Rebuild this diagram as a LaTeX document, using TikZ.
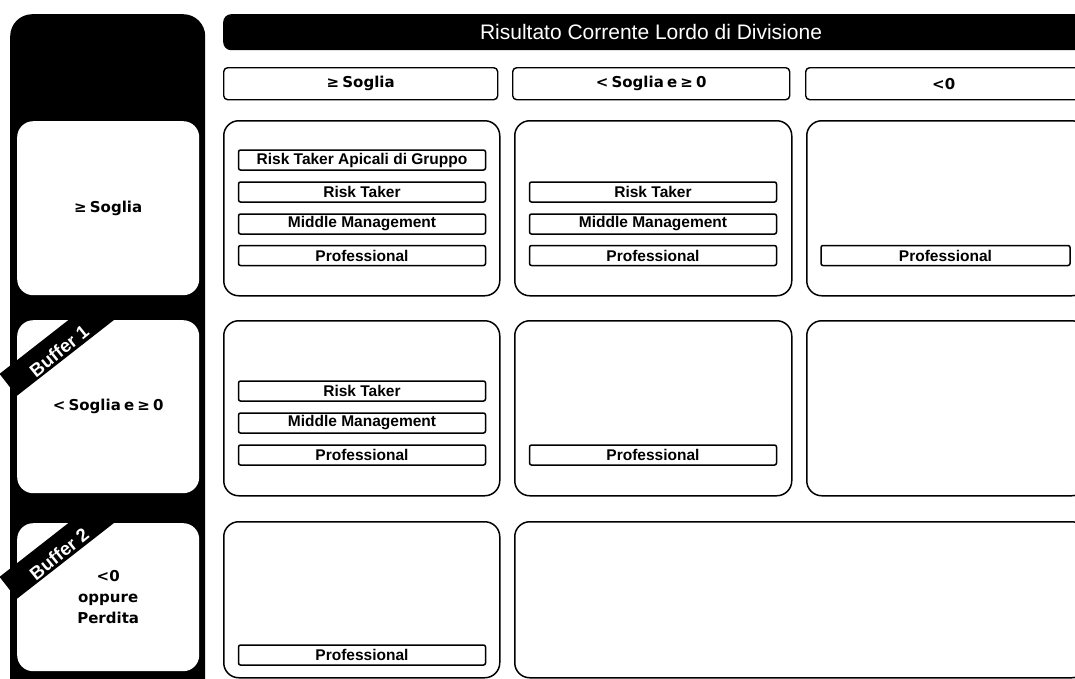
\documentclass[tikz,border=0pt]{standalone}
\usepackage{fontspec}
\setmainfont{Liberation Sans}
\newfontfamily\lblfont[WordSpace=0.6]{DejaVu Sans}
\begin{document}
\begin{tikzpicture}[x=1pt,y=-1pt,
 cell/.style={draw, line width=1.5pt, rounded corners=15pt, anchor=north west, inner sep=0pt},
 hdr/.style={draw, line width=1.4pt, rounded corners=4pt, anchor=north west, inner sep=0pt, minimum height=32pt, font=\lblfont\bfseries\fontsize{15}{17}\selectfont},
 ibox/.style={draw, line width=1.5pt, rounded corners=2pt, minimum height=20pt, minimum width=247pt, inner sep=0pt, font=\bfseries\fontsize{15.5}{17}\selectfont},
 lbox/.style={fill=white, rounded corners=16pt, anchor=north west, inner sep=0pt, minimum width=182pt, align=center, font=\lblfont\bfseries\fontsize{15}{21}\selectfont},
 ribbon/.style={fill=black, rotate=38, anchor=west, minimum width=140pt, minimum height=28pt, inner sep=0pt},
 rtext/.style={text=white, rotate=39, font=\bfseries\fontsize{18.5}{19}\selectfont, inner sep=0pt}]
\useasboundingbox (0,0) rectangle (1075,678);
\clip (0,0) rectangle (1075,678);
% left column
\node[fill=black, rounded corners=22pt, anchor=north west, minimum width=195pt, minimum height=700pt, inner sep=0pt] (col) at (10,14) {};
\node[lbox, minimum height=174pt] (l1) at (17,121) {≥ Soglia};
\node[lbox, minimum height=173pt] (l2) at (17,320) {< Soglia e ≥ 0};
\node[lbox, minimum height=148pt] (l3) at (17,523) {<0\\oppure\\Perdita};
\begin{scope}
\clip (0,300) rectangle (210,500);
\node[ribbon] (r1) at (8,385) {};
\end{scope}
\node[rtext] (t1) at (59,351) {Buffer\hspace{5pt}1};
\begin{scope}
\clip (0,503) rectangle (210,678);
\node[ribbon] (r2) at (8,588) {};
\end{scope}
\node[rtext] (t2) at (59,554) {Buffer\hspace{5pt}2};
% top bar
\node[fill=black, rounded corners=8pt, anchor=north west, minimum width=880pt, minimum height=36pt, inner sep=0pt] (bar) at (223,14) {};
\node[text=white, font=\fontsize{21}{23}\selectfont, inner sep=0pt] (title) at (651,32) {Risultato Corrente Lordo di Divisione};
% headers
\node[hdr, minimum width=274pt] (h1) at (223,67) {≥ Soglia};
\node[hdr, minimum width=277pt] (h2) at (512,67) {< Soglia e ≥ 0};
\node[hdr, minimum width=276pt] (h3) at (805,67) {<0};
% cells
\node[cell, minimum width=276pt, minimum height=175pt] (c11) at (223,120) {};
\node[cell, minimum width=277pt, minimum height=175pt] (c12) at (514,120) {};
\node[cell, minimum width=280pt, minimum height=175pt] (c13) at (806,120) {};
\node[cell, minimum width=276pt, minimum height=175pt] (c21) at (223,320) {};
\node[cell, minimum width=277pt, minimum height=175pt] (c22) at (514,320) {};
\node[cell, minimum width=280pt, minimum height=175pt] (c23) at (806,320) {};
\node[cell, minimum width=276pt, minimum height=156pt] (c31) at (223,521) {};
\node[cell, minimum width=572pt, minimum height=156pt] (c32) at (514,521) {};
% inner boxes
\node[ibox] (a1) at (362,160) {Risk Taker Apicali di Gruppo};
\node[ibox] (a2) at (362,192) {Risk Taker};
\node[ibox] (a3) at (362,224) {Middle Management};
\node[ibox] (a4) at (362,255.5) {Professional};
\node[ibox] (b2) at (653,192) {Risk Taker};
\node[ibox] (b3) at (653,224) {Middle Management};
\node[ibox] (b4) at (653,255.5) {Professional};
\node[ibox, minimum width=249pt] (e4) at (945.5,255.5) {Professional};
\node[ibox] (d2) at (362,391) {Risk Taker};
\node[ibox] (d3) at (362,423) {Middle Management};
\node[ibox] (d4) at (362,455) {Professional};
\node[ibox] (f4) at (653,455) {Professional};
\node[ibox] (g4) at (362,655) {Professional};
\end{tikzpicture}
\end{document}
